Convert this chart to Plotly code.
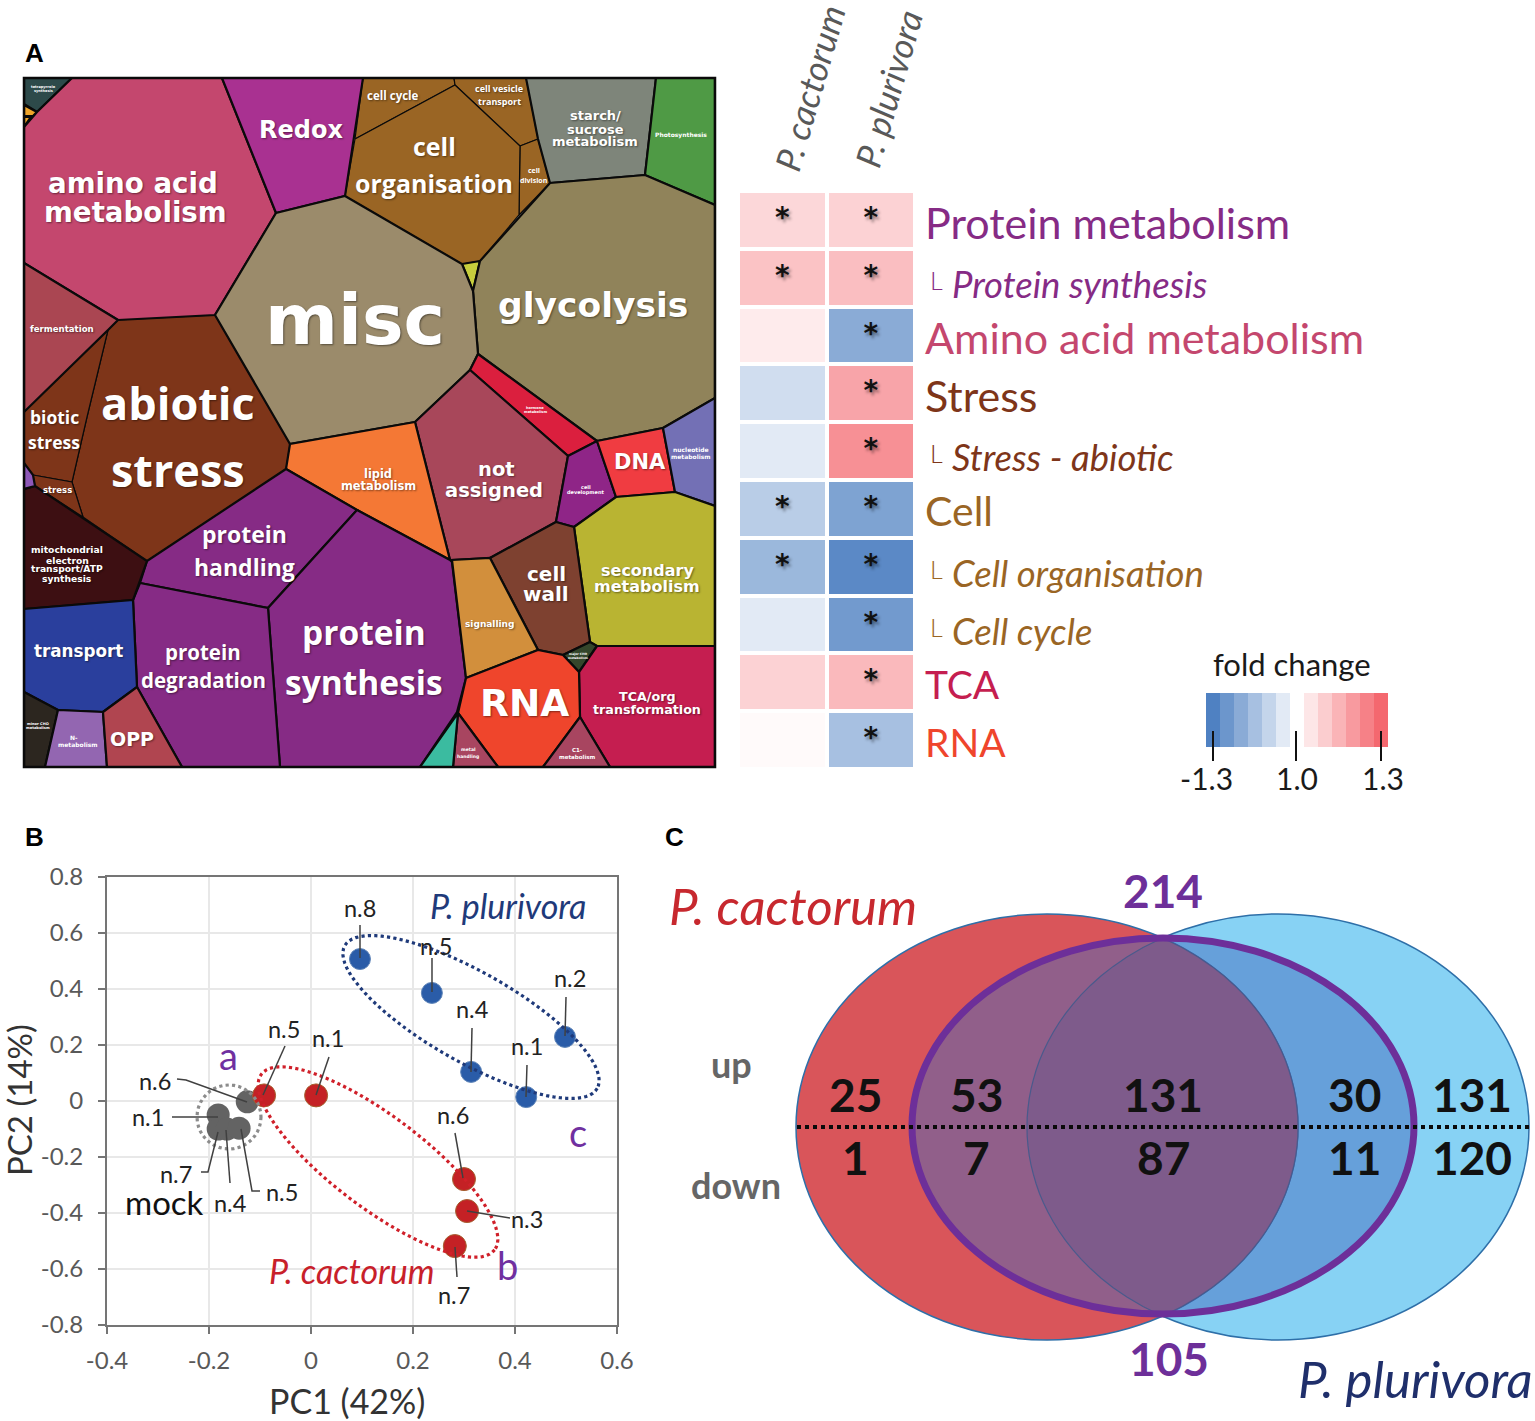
import math
import plotly.graph_objects as go

W, H = 1535, 1421

# ---------- Panel A: Voronoi treemap cells ----------
cell_names = ["corner bin", "small bin 1", "small bin 2", "amino acid metabolism", "Redox", "cell cycle",
              "cell vesicle transport", "cell division", "cell organisation", "small bin 3",
              "starch/sucrose metabolism", "Photosynthesis", "glycolysis", "misc", "hormone metabolism",
              "not assigned", "lipid metabolism", "protein handling", "protein synthesis", "protein degradation",
              "mitochondrial electron transport/ATP synthesis", "transport", "minor CHO metabolism",
              "N-metabolism", "OPP", "abiotic stress", "biotic stress", "fermentation", "stress",
              "small bin 4", "cell development", "DNA", "nucleotide metabolism", "secondary metabolism",
              "cell wall", "signalling", "small bin 5", "TCA/org transformation", "RNA", "C1-metabolism",
              "metal handling", "small bin 6"]
cell_colors = ["#2D4A4A", "#EFA52A", "#EFA52A", "#C4476E", "#A93191", "#9A6524",
               "#9A6524", "#9A6524", "#9A6524", "#C7CE3D",
               "#7E857A", "#4F9A45", "#90835A", "#9B8B6B", "#DB1F3E",
               "#A8475A", "#F47835", "#862B85", "#862B85", "#862B85",
               "#3D0F12", "#2A3F9D", "#2C261F",
               "#9366B1", "#B04550", "#7E3519", "#7E3519", "#AA4652", "#7E3519",
               "#8E58B8", "#8F2587", "#F03C41", "#7370B5", "#B9B432",
               "#7E4130", "#D28F3C", "#34462B", "#C51E50", "#EF452C", "#A84560",
               "#A84560", "#3BBBA0"]
thin_cells = ["cell cycle", "cell vesicle transport", "cell division", "cell organisation",
              "abiotic stress", "biotic stress", "stress"]
cell_vertices = [
    [(24, 78), (72, 78), (37, 112), (24, 104)],
    [(24, 105), (37, 112), (33, 116), (24, 116)],
    [(24, 117), (31, 117), (24, 127)],
    [(72, 78), (222, 78), (276, 213), (215, 315), (118, 320), (24, 263), (24, 127), (37, 112)],
    [(222, 78), (363, 78), (345, 196), (276, 213)],
    [(363, 78), (454, 78), (455, 85), (355, 139)],
    [(454, 78), (526, 78), (538, 139), (520, 146), (455, 85)],
    [(520, 146), (538, 139), (550, 183), (519, 215)],
    [(355, 139), (455, 85), (520, 146), (519, 215), (480, 261), (462, 264), (345, 196)],
    [(462, 264), (480, 261), (473, 291)],
    [(526, 78), (656, 78), (645, 175), (550, 183), (538, 139)],
    [(656, 78), (715, 78), (715, 205), (645, 175)],
    [(550, 183), (645, 175), (715, 205), (715, 398), (663, 428), (597, 441), (478, 354), (473, 291), (480, 261)],
    [(276, 213), (345, 196), (462, 264), (473, 291), (478, 354), (470, 370), (415, 422), (290, 444), (215, 315)],
    [(478, 354), (597, 441), (568, 456), (470, 370)],
    [(470, 370), (568, 456), (556, 522), (490, 558), (450, 560), (415, 422)],
    [(415, 422), (450, 560), (357, 510), (286, 469), (290, 444)],
    [(286, 469), (357, 510), (268, 608), (140, 583), (147, 561)],
    [(357, 510), (450, 560), (452, 562), (466, 678), (457, 712), (420, 767), (280, 767), (268, 608)],
    [(140, 583), (268, 608), (280, 767), (182, 767), (137, 687), (133, 600)],
    [(24, 489), (35, 486), (147, 561), (133, 600), (24, 609)],
    [(24, 609), (133, 600), (137, 687), (103, 712), (58, 710), (24, 692)],
    [(24, 692), (58, 710), (45, 767), (24, 767)],
    [(58, 710), (103, 712), (107, 767), (45, 767)],
    [(103, 712), (137, 687), (182, 767), (107, 767)],
    [(118, 320), (215, 315), (290, 444), (286, 469), (147, 561), (83, 517), (72, 482), (87, 417), (108, 330)],
    [(108, 330), (24, 412), (24, 463), (33, 475), (72, 482), (87, 417)],
    [(24, 263), (118, 320), (108, 330), (24, 412)],
    [(33, 475), (72, 482), (83, 517), (35, 486)],
    [(24, 463), (33, 475), (35, 486), (24, 489)],
    [(568, 456), (597, 441), (616, 497), (574, 527), (556, 522)],
    [(597, 441), (663, 428), (675, 492), (616, 497)],
    [(663, 428), (715, 398), (715, 506), (675, 492)],
    [(616, 497), (675, 492), (715, 506), (715, 646), (597, 646), (590, 642), (574, 527)],
    [(556, 522), (574, 527), (590, 642), (563, 655), (538, 650), (490, 558)],
    [(452, 560), (490, 558), (538, 650), (466, 678)],
    [(563, 655), (590, 642), (597, 646), (579, 672)],
    [(597, 646), (715, 646), (715, 767), (610, 767), (580, 717), (579, 672)],
    [(466, 678), (538, 650), (563, 655), (579, 672), (580, 717), (543, 767), (498, 767), (458, 713)],
    [(580, 717), (610, 767), (543, 767)],
    [(458, 713), (498, 767), (453, 767)],
    [(458, 713), (453, 767), (420, 767)],
]

# ---------- Panel A: heatmap ----------
heat_rows = ["Protein metabolism", "Protein synthesis", "Amino acid metabolism", "Stress", "Stress - abiotic",
             "Cell", "Cell organisation", "Cell cycle", "TCA", "RNA"]
heat_columns = ["P. cactorum", "P. plurivora"]
fold_cactorum = [1.08, 1.12, 1.04, -1.08, -1.05, -1.12, -1.17, -1.05, 1.09, 1.01]
fold_plurivora = [1.09, 1.13, -1.20, 1.18, 1.22, -1.22, -1.28, -1.24, 1.14, -1.15]
signif_cactorum = [1, 1, 0, 0, 0, 1, 1, 0, 0, 0]
signif_plurivora = [1, 1, 1, 1, 1, 1, 1, 1, 1, 1]
row_colors = ["#862B85", "#862B85", "#C4476E", "#7E3519", "#7E3519", "#9A6524", "#9A6524", "#9A6524", "#C51E50", "#EF452C"]
row_is_sub = [0, 1, 0, 0, 1, 0, 1, 1, 0, 0]
legend_steps = [-1.30, -1.25, -1.20, -1.15, -1.10, -1.05, 1.00, 1.05, 1.10, 1.15, 1.20, 1.25, 1.30]
legend_ticks = ["-1.3", "1.0", "1.3"]

# ---------- Panel B: PCA ----------
plurivora_x = [0.096, 0.237, 0.314, 0.498, 0.422]
plurivora_y = [0.507, 0.386, 0.104, 0.229, 0.014]
plurivora_n = ["n.8", "n.5", "n.4", "n.2", "n.1"]
cactorum_x = [-0.092, 0.010, 0.300, 0.306, 0.282]
cactorum_y = [0.020, 0.020, -0.279, -0.393, -0.518]
cactorum_n = ["n.5", "n.1", "n.6", "n.3", "n.7"]
mock_x = [-0.125, -0.182, -0.182, -0.165, -0.141]
mock_y = [-0.003, -0.050, -0.100, -0.100, -0.097]
mock_n = ["n.6", "n.1", "n.7", "n.4", "n.5"]

# ---------- Panel C: Venn ----------
venn_up = [25, 53, 131, 30, 131]
venn_down = [1, 7, 87, 11, 120]
venn_total_up = 214
venn_total_down = 105

# ---------- helpers ----------
def fx(p): return p / W
def fy(p): return 1 - p / H
def transform(v): return (1 if v > 0 else -1) * (abs(v) - 1) / 0.3
SCALE = [[0, "#4F81C2"], [0.5, "#FFFFFF"], [1, "#F4686F"]]
DJ, OS, LA = "DejaVu Sans", "Open Sans", "Lato"
annotations, shapes = [], []

def label(text, x, y, size, color="#FFFFFF", family=LA, weight=400, anchor="center", angle=0, italic=False, shadow=None):
    f = dict(size=size, color=color, family=family, weight=weight)
    if italic: f["style"] = "italic"
    if shadow: f["shadow"] = shadow
    if angle == 0 and family in (LA, OS):
        y -= 0.05 * size
    annotations.append(dict(text=text, x=fx(x), y=fy(y), xref="paper", yref="paper", showarrow=False,
                            xanchor=anchor, yanchor="middle", font=f, textangle=angle, borderpad=0, borderwidth=0))

def rot_ellipse(cx, cy, a, b, deg, n=90):
    t = math.radians(deg)
    pts = []
    for i in range(n):
        u = 2 * math.pi * i / n
        x = a * math.cos(u); y = b * math.sin(u)
        pts.append((cx + x * math.cos(t) - y * math.sin(t), cy + x * math.sin(t) + y * math.cos(t)))
    return pts

def paper_path(pts):
    return "M" + " L".join(f"{fx(x):.5f},{fy(y):.5f}" for x, y in pts) + " Z"

def hseg(points, color="#404040", width=1.5):
    path = "M" + " L".join(f"{fx(x):.5f},{fy(y):.5f}" for x, y in points)
    shapes.append(dict(type="path", path=path, xref="paper", yref="paper", line=dict(color=color, width=width)))

fig = go.Figure()

# ---- treemap traces: sub-bins first with thin borders, then the rest ----
for thin_pass in (True, False):
    for name, col, verts in zip(cell_names, cell_colors, cell_vertices):
        if (name in thin_cells) != thin_pass:
            continue
        xs = [v[0] for v in verts] + [verts[0][0]]
        ys = [v[1] for v in verts] + [verts[0][1]]
        fig.add_trace(go.Scatter(x=xs, y=ys, mode="lines", fill="toself", fillcolor=col, name=name,
                                 line=dict(color="#0A0A0A", width=1.2 if thin_pass else 2.2),
                                 xaxis="x", yaxis="y", hoverinfo="name"))
shapes.append(dict(type="rect", x0=fx(24), x1=fx(715), y0=fy(78), y1=fy(767), xref="paper", yref="paper",
                   line=dict(color="#0A0A0A", width=2.5)))

SH = "1px 1px 2px rgba(0,0,0,0.45)"
tree_labels = [
    ("amino acid", 133, 184, 27.7, DJ, 700), ("metabolism", 135, 212, 27.7, DJ, 700), ("Redox", 301, 130, 24, DJ, 700),
    ("cell", 434, 147, 25, OS, 700), ("organisation", 434, 184, 25, OS, 700), ("cell cycle", 393, 96, 11.5, OS, 700),
    ("cell vesicle", 499, 89, 9, OS, 700), ("transport", 499, 102, 9, OS, 700),
    ("cell", 534, 171, 7, OS, 700), ("division", 534, 181, 7, OS, 700),
    ("starch/", 595, 116, 13, DJ, 700), ("sucrose", 595, 129, 13, DJ, 700), ("metabolism", 595, 142, 13, DJ, 700),
    ("Photosynthesis", 681, 135, 6, DJ, 700), ("misc", 355, 320, 70, DJ, 700), ("glycolysis", 593, 305, 34.5, DJ, 700),
    ("fermentation", 62, 329, 8.6, DJ, 700), ("biotic", 54, 418, 17.5, OS, 700), ("stress", 54, 443, 17.5, OS, 700),
    ("abiotic", 178, 405, 45, OS, 700), ("stress", 178, 472, 45, OS, 700), ("stress", 58, 490, 8.5, DJ, 700),
    ("lipid", 378, 474, 11.4, DJ, 700), ("metabolism", 378, 486, 11.4, DJ, 700),
    ("not", 496, 470, 19.5, DJ, 700), ("assigned", 494, 490, 19.5, DJ, 700),
    ("hormone", 535, 408, 3.5, DJ, 700), ("metabolism", 535, 412, 3.5, DJ, 700),
    ("cell", 586, 487, 5, DJ, 700), ("development", 586, 493, 5, DJ, 700), ("DNA", 640, 462, 21, DJ, 700),
    ("nucleotide", 691, 450, 6, DJ, 700), ("metabolism", 691, 456, 6, DJ, 700),
    ("protein", 244, 535, 23, OS, 700), ("handling", 244, 568, 23, OS, 700),
    ("mitochondrial", 67, 550, 9.2, DJ, 700), ("electron", 67, 560, 9.2, DJ, 700),
    ("transport/ATP", 67, 569, 9.2, DJ, 700), ("synthesis", 67, 578, 9.2, DJ, 700),
    ("cell", 546, 574, 20, DJ, 700), ("wall", 546, 594, 20, DJ, 700),
    ("secondary", 647, 570, 16, DJ, 700), ("metabolism", 647, 586, 16, DJ, 700), ("transport", 78, 651, 16.8, DJ, 700),
    ("protein", 203, 653, 20.5, OS, 700), ("degradation", 203, 681, 20.5, OS, 700),
    ("protein", 364, 634, 33.5, OS, 700), ("synthesis", 364, 684, 33.5, OS, 700), ("signalling", 490, 624, 9, DJ, 700),
    ("RNA", 524, 703, 37.5, DJ, 700), ("TCA/org", 647, 696, 12.7, DJ, 700), ("transformation", 647, 709, 12.7, DJ, 700),
    ("OPP", 132, 739, 19, DJ, 700), ("N-", 74, 737, 6, DJ, 700), ("metabolism", 78, 744, 6, DJ, 700),
    ("C1-", 577, 750, 5.5, DJ, 700), ("metabolism", 577, 757, 5.5, DJ, 700), ("metal", 468, 750, 4.5, DJ, 700),
    ("handling", 468, 756, 4.5, DJ, 700), ("minor CHO", 38, 724, 3.6, DJ, 700), ("metabolism", 38, 728, 3.6, DJ, 700),
    ("tetrapyrrole", 43, 87, 3.5, DJ, 700), ("synthesis", 43, 91, 3.5, DJ, 700),
    ("major CHO", 578, 654, 3, DJ, 700), ("metabolism", 578, 658, 3, DJ, 700),
]
for t, x, y, s, fam, wt in tree_labels:
    label(t, x, y, s, family=fam, weight=wt, shadow=SH if s > 8 else None)

# ---- heat map ----
row_idx = list(range(len(heat_rows)))
z = [[transform(a), transform(b)] for a, b in zip(fold_cactorum, fold_plurivora)]
fig.add_trace(go.Heatmap(z=z, x=[0, 1], y=row_idx, colorscale=SCALE, zmin=-1, zmax=1, showscale=False,
                         xgap=4, ygap=4, xaxis="x2", yaxis="y2",
                         customdata=[[a, b] for a, b in zip(fold_cactorum, fold_plurivora)]))
for col, sig in enumerate([signif_cactorum, signif_plurivora]):
    ys = [r for r, s in zip(row_idx, sig) if s]
    fig.add_trace(go.Scatter(x=[col] * len(ys), y=ys, mode="text", text=["*"] * len(ys),
                             textfont=dict(size=28, color="#111111", family=DJ, weight=700, shadow="2px 3px 3px rgba(0,0,0,0.4)"),
                             textposition="middle center", xaxis="x2", yaxis="y2", hoverinfo="skip"))
for name, x, y in zip(heat_columns, [809, 888], [88, 88]):
    label(name, x, y, 35, color="#595959", angle=-74, italic=True, weight=400)

row_px = [225, 286, 340, 398, 459, 513, 575, 633, 686, 744]
row_short = {"TCA": 39, "RNA": 39, "Cell": 41}
for name, col, sub, yp in zip(heat_rows, row_colors, row_is_sub, row_px):
    if sub:
        label("L", 930, yp - 5, 25, color=col, anchor="left", weight=300)
        label(name, 952, yp, 36.5, color=col, anchor="left", italic=True)
    else:
        label(name, 925, yp, row_short.get(name, 43), color=col, anchor="left")

# ---- fold change legend ----
legend_z = [transform(v) if abs(v) > 1 else 0 for v in legend_steps]
fig.add_trace(go.Heatmap(z=[legend_z], x=list(range(len(legend_steps))), y=[0], colorscale=SCALE, zmin=-1, zmax=1,
                         showscale=False, xaxis="x3", yaxis="y3"))
label("fold change", 1292, 666, 31, color="#1A1A1A")
for txt, lx, tx in zip(legend_ticks, [1206, 1297, 1383], [1213, 1296, 1381]):
    label(txt, lx, 780, 30, color="#1A1A1A")
    hseg([(tx, 731), (tx, 761)], color="#111111", width=2)

# ---- PCA ----
fig.add_trace(go.Scatter(x=mock_x, y=mock_y, mode="markers", text=mock_n, name="mock", xaxis="x4", yaxis="y4",
                         marker=dict(size=23, color="#636363")))
fig.add_trace(go.Scatter(x=cactorum_x, y=cactorum_y, mode="markers", text=cactorum_n, name="P. cactorum", xaxis="x4", yaxis="y4",
                         marker=dict(size=23, color="#C42125", line=dict(color="#A5602F", width=1))))
fig.add_trace(go.Scatter(x=plurivora_x, y=plurivora_y, mode="markers", text=plurivora_n, name="P. plurivora", xaxis="x4", yaxis="y4",
                         marker=dict(size=21, color="#2A5CA8", line=dict(color="#5E84B8", width=1))))

for pts, c in [(rot_ellipse(471, 1017, 145, 45, 29.5), "#1F3A7A"), (rot_ellipse(378, 1162, 146, 46, 37), "#D0202A"),
               (rot_ellipse(229, 1117, 32, 32, 0, 40), "#8C8C8C")]:
    shapes.append(dict(type="path", path=paper_path(pts), xref="paper", yref="paper", line=dict(color=c, width=3.2, dash="dot")))

pca_labels = [
    ("n.8", 360, 909), ("n.5", 436, 947), ("n.4", 472, 1010), ("n.2", 570, 979), ("n.1", 527, 1047),
    ("n.5", 284, 1030), ("n.1", 328, 1039), ("n.6", 453, 1116), ("n.3", 527, 1220), ("n.7", 454, 1296),
    ("n.6", 155, 1082), ("n.1", 148, 1118), ("n.7", 176, 1175), ("n.4", 230, 1204), ("n.5", 282, 1193),
]
for t, x, y in pca_labels:
    label(t, x, y, 23.5, color="#222222")
leaders = [
    [(360, 925), (360, 958)], [(432, 958), (432, 992)], [(472, 1028), (471, 1072)], [(566, 997), (565, 1036)],
    [(527, 1065), (526, 1097)], [(285, 1046), (263, 1095)], [(329, 1057), (316, 1095)], [(455, 1133), (463, 1178)],
    [(510, 1218), (467, 1211)], [(457, 1277), (455, 1247)], [(177, 1079), (186, 1080), (247, 1102)],
    [(172, 1117), (218, 1117)], [(201, 1172), (208, 1172), (218, 1132)], [(230, 1183), (226, 1130)],
    [(260, 1191), (252, 1191), (241, 1129)],
]
for seg in leaders:
    hseg(seg)
label("mock", 164, 1204, 33, color="#111111")
label("P. plurivora", 508, 907, 34, color="#1F3A7A", italic=True)
label("P. cactorum", 352, 1272, 34, color="#C8202A", italic=True)
label("a", 228, 1057, 38, color="#7030A0")
label("b", 507, 1267, 38, color="#7030A0")
label("c", 578, 1134, 38, color="#7030A0")
label("PC1 (42%)", 347, 1402, 34, color="#333333")
label("PC2 (14%)", 19, 1100, 33, color="#333333", angle=-90)

# ---- Venn ----
def ell(cx, cy, rx, ry, fill, line, lw):
    shapes.append(dict(type="circle", xref="x5", yref="y5", x0=cx - rx, x1=cx + rx, y0=cy - ry, y1=cy + ry,
                       fillcolor=fill, line=dict(color=line, width=lw)))
RC, BC, RY, RR = (1047, 1127), (1278, 1127), 213, 251
ell(*BC, RR, RY, "#87D2F4", "#2E6FA8", 1.5)
ell(*RC, RR, RY, "#D9555A", "#2E6FA8", 1.5)
ell(1163, 1126, 251, 188, "rgba(67,106,190,0.48)", "rgba(0,0,0,0)", 0)
# the lens shared by both species, outlined by the two outer ellipses
arc = []
for i in range(41):
    yy = -189 + 378 * i / 40
    arc.append((RC[0] + RR * math.sqrt(1 - (yy / RY) ** 2), RC[1] + yy))
for i in range(41):
    yy = 189 - 378 * i / 40
    arc.append((BC[0] - RR * math.sqrt(1 - (yy / RY) ** 2), BC[1] + yy))
shapes.append(dict(type="path", xref="x5", yref="y5", fillcolor="#7E5B8B", line=dict(color="#4A5A8C", width=1.2),
                   path="M" + " L".join(f"{x:.1f},{y:.1f}" for x, y in arc) + " Z"))
ell(1163, 1126, 251, 188, "rgba(0,0,0,0)", "#6D2F99", 7)
shapes.append(dict(type="line", xref="x5", yref="y5", x0=797, x1=1532, y0=1127, y1=1127,
                   line=dict(color="#0A0A0A", width=4, dash="dot")))
for v, d, x in zip(venn_up, venn_down, [855, 976, 1163, 1354, 1472]):
    label(str(v), x, 1097, 46, color="#111111", weight=700)
    label(str(d), x, 1160, 46, color="#111111", weight=700)
label(str(venn_total_up), 1163, 893, 46, color="#6D2F99", weight=700)
label(str(venn_total_down), 1169, 1361, 46, color="#6D2F99", weight=700)
label("up", 731, 1066, 36, color="#666666", weight=700)
label("down", 736, 1187, 36, color="#666666", weight=700)
label("P. cactorum", 793, 908, 51, color="#C7282E", italic=True)
label("P. plurivora", 1415, 1381, 51, color="#1F2F6B", italic=True)

# ---- panel letters ----
for t, x, y in [("A", 34, 53), ("B", 34, 837), ("C", 674, 837)]:
    label(t, x, y, 26, color="#000000", family="Liberation Sans", weight=700)

hidden = dict(visible=False, showgrid=False, zeroline=False, fixedrange=True)
GRID = "#E8E8E8"
AX = "#757575"
fig.update_layout(
    width=W, height=H, margin=dict(l=0, r=0, t=0, b=0, autoexpand=False), autosize=False, showlegend=False,
    paper_bgcolor="#FFFFFF", plot_bgcolor="#FFFFFF", hovermode="closest",
    xaxis=dict(domain=[fx(24), fx(715)], range=[24, 715], anchor="y", **hidden),
    yaxis=dict(domain=[fy(767), fy(78)], range=[767, 78], anchor="x", **hidden),
    xaxis2=dict(domain=[fx(738), fx(915)], range=[-0.5, 1.5], anchor="y2", **hidden),
    yaxis2=dict(domain=[fy(769), fy(191)], range=[9.5, -0.5], anchor="x2", **hidden),
    xaxis3=dict(domain=[fx(1206), fx(1388)], range=[-0.5, 12.5], anchor="y3", **hidden),
    yaxis3=dict(domain=[fy(747), fy(693)], range=[-0.5, 0.5], anchor="x3", **hidden),
    xaxis4=dict(domain=[fx(107), fx(617)], range=[-0.4, 0.6], anchor="y4",
                tickvals=[-0.4, -0.2, 0, 0.2, 0.4, 0.6], ticktext=["-0.4", "-0.2", "0", "0.2", "0.4", "0.6"],
                showgrid=True, gridcolor=GRID, gridwidth=1.5, zeroline=False, showline=True, linecolor=AX,
                linewidth=2, mirror=True, ticks="outside", ticklen=7, tickcolor=AX, tickwidth=2,
                ticklabelstandoff=6, tickfont=dict(size=24, color="#595959", family=LA), fixedrange=True),
    yaxis4=dict(domain=[fy(1325), fy(877)], range=[-0.8, 0.8], anchor="x4",
                tickvals=[-0.8, -0.6, -0.4, -0.2, 0, 0.2, 0.4, 0.6, 0.8],
                ticktext=["-0.8", "-0.6", "-0.4", "-0.2", "0", "0.2", "0.4", "0.6", "0.8"],
                showgrid=True, gridcolor=GRID, gridwidth=1.5, zeroline=False, showline=True, linecolor=AX,
                linewidth=2, mirror=True, ticks="outside", ticklen=7, tickcolor=AX, tickwidth=2,
                ticklabelstandoff=10, tickfont=dict(size=24, color="#595959", family=LA), fixedrange=True),
    xaxis5=dict(domain=[fx(660), 1], range=[660, 1535], anchor="y5", **hidden),
    yaxis5=dict(domain=[0, fy(860)], range=[1421, 860], anchor="x5", **hidden),
    annotations=annotations, shapes=shapes,
)
fig.write_html("out.html", config=dict(displayModeBar=False),
               post_script="document.body.style.margin='0';document.body.style.overflow='hidden';")
